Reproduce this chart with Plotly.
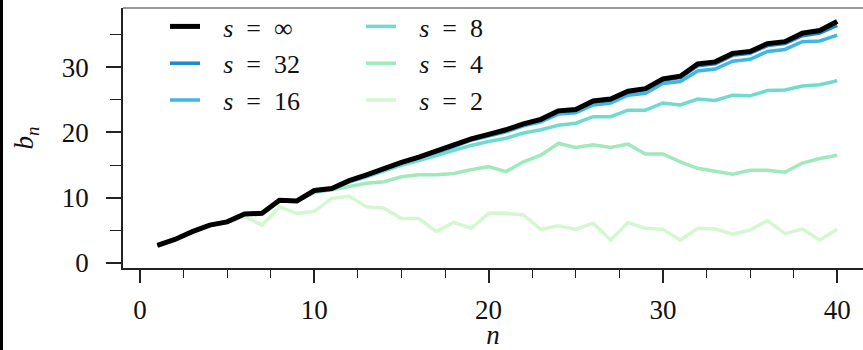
import plotly.graph_objects as go

n_vals = list(range(1, 41))

b_inf = [2.7, 3.6, 4.8, 5.8, 6.3, 7.5, 7.6, 9.6, 9.5, 11.1,
         11.4, 12.6, 13.5, 14.5, 15.4, 16.2, 17.2, 18.0, 19.0, 19.7,
         20.4, 21.3, 22.0, 23.3, 23.5, 24.8, 25.1, 26.3, 26.7, 28.2,
         28.6, 30.5, 30.8, 32.1, 32.4, 33.6, 33.9, 35.2, 35.6, 37.0]
b_32 = [2.7, 3.6, 4.8, 5.8, 6.3, 7.5, 7.6, 9.6, 9.5, 11.1,
        11.4, 12.6, 13.5, 14.5, 15.4, 16.2, 17.2, 18.0, 19.0, 19.7,
        20.4, 21.3, 22.0, 23.2, 23.4, 24.7, 25.0, 26.2, 26.6, 28.0,
        28.4, 30.2, 30.5, 31.8, 32.1, 33.3, 33.6, 34.8, 35.2, 36.4]
b_16 = [2.7, 3.6, 4.8, 5.8, 6.3, 7.5, 7.6, 9.6, 9.5, 11.1,
        11.4, 12.6, 13.5, 14.5, 15.3, 16.1, 17.0, 17.8, 18.8, 19.4,
        20.1, 21.0, 21.6, 22.8, 23.0, 24.2, 24.5, 25.7, 26.0, 27.5,
        27.8, 29.4, 29.7, 30.9, 31.2, 32.4, 32.7, 33.9, 34.0, 34.9]
b_8 = [2.7, 3.6, 4.8, 5.8, 6.3, 7.5, 7.6, 9.6, 9.5, 11.0,
       11.3, 12.4, 13.2, 14.1, 15.0, 15.7, 16.5, 17.2, 18.0, 18.6,
       19.1, 19.9, 20.4, 21.1, 21.4, 22.4, 22.4, 23.4, 23.4, 24.5,
       24.2, 25.1, 24.9, 25.7, 25.6, 26.4, 26.5, 27.1, 27.3, 27.9]
b_4 = [2.7, 3.6, 4.8, 5.8, 6.3, 7.5, 7.6, 9.6, 9.5, 10.8,
       11.2, 11.7, 12.2, 12.45, 13.2, 13.5, 13.5, 13.7, 14.3, 14.75,
       14.0, 15.5, 16.5, 18.3, 17.7, 18.1, 17.7, 18.2, 16.7, 16.7,
       15.5, 14.5, 14.0, 13.6, 14.2, 14.2, 13.9, 15.3, 16.0, 16.5]
b_2 = [2.7, 3.6, 4.8, 5.8, 6.3, 7.1, 5.8, 8.6, 7.6, 7.9,
       9.9, 10.2, 8.6, 8.4, 6.8, 6.8, 4.8, 6.2, 5.3, 7.6,
       7.6, 7.35, 5.15, 5.7, 5.15, 6.1, 3.5, 6.2, 5.3, 5.15,
       3.5, 5.3, 5.2, 4.4, 5.05, 6.5, 4.5, 5.2, 3.5, 5.15]

series_labels = ["\u221e", "32", "16", "8", "4", "2"]
x_ticks = [0, 10, 20, 30, 40]
y_ticks = [0, 10, 20, 30]

# drawing order: palest first, black on top
series = [
    (b_2, "2", "#d3f8d0", 3.5, "legend2"),
    (b_4, "4", "#9fe9bb", 3.5, "legend2"),
    (b_8, "8", "#6fdacd", 3.5, "legend2"),
    (b_16, "16", "#3fb6e4", 3.5, "legend"),
    (b_32, "32", "#1e88cc", 3.5, "legend"),
    (b_inf, "\u221e", "#000000", 5, "legend"),
]

FONT = "Liberation Serif"
fig = go.Figure()
for vals, lab, col, w, lg in series:
    fig.add_trace(go.Scatter(
        x=n_vals, y=vals, mode="lines",
        line=dict(color=col, width=w),
        name="\u2002\u2009<i>s</i>\u2002=\u2002" + lab,
        legend=lg,
    ))

L, R, T, B = 123, 0, 8, 82
W, H = 863, 350
pw, ph = W - L - R, H - T - B

def px_x(p):
    return (p - L) / pw

def px_y(p):
    return (H - B - p) / ph

legend_common = dict(
    bgcolor="rgba(0,0,0,0)", borderwidth=0, traceorder="reversed",
    font=dict(family=FONT, size=26, color="#111"),
    xanchor="left", yanchor="top", itemwidth=30, tracegroupgap=0,
)

fig.update_layout(
    width=W, height=H,
    margin=dict(l=L, r=R, t=T, b=B, autoexpand=False),
    plot_bgcolor="white", paper_bgcolor="white",
    font=dict(family=FONT, size=27, color="#111"),
    showlegend=True,
    legend=dict(x=px_x(165), y=px_y(3), **legend_common),
    legend2=dict(x=px_x(361), y=px_y(3), **legend_common),
    xaxis=dict(
        range=[-0.975, 41.48], tickvals=x_ticks, automargin=False,
        ticks="outside", ticklen=13, tickwidth=1.5, tickcolor="#222",
        minor=dict(dtick=2.5, tick0=0, ticks="outside", ticklen=8,
                   tickwidth=1.3, tickcolor="#222"),
        showline=True, linecolor="#222", linewidth=1.5,
        showgrid=False, zeroline=False,
        ticklabelstandoff=4,
        tickfont=dict(family=FONT, size=27, color="#111"),
        title=dict(text="<i>n</i>", font=dict(family=FONT, size=27), standoff=2),
    ),
    yaxis=dict(
        range=[-0.77, 39.05], tickvals=y_ticks, automargin=False,
        ticks="outside", ticklen=15, tickwidth=1.5, tickcolor="#222",
        minor=dict(dtick=5, tick0=0, ticks="outside", ticklen=11,
                   tickwidth=1.3, tickcolor="#222"),
        showline=True, linecolor="#222", linewidth=1.5,
        showgrid=False, zeroline=False,
        ticklabelstandoff=12,
        tickfont=dict(family=FONT, size=27, color="#111"),
        title=dict(text="<i>b</i><sub><i>n</i></sub>", font=dict(family=FONT, size=27), standoff=20),
    ),
    shapes=[
        dict(type="line", xref="paper", yref="paper", x0=0, x1=1, y0=1, y1=1,
             line=dict(color="#9a9a9a", width=2)),
        dict(type="rect", xref="paper", yref="paper",
             x0=px_x(0), x1=px_x(3), y0=px_y(H), y1=px_y(0),
             line=dict(width=0), fillcolor="#000"),
    ],
)

fig.write_html("out.html", config={"displayModeBar": False},
               post_script="document.body.style.margin='0';")
